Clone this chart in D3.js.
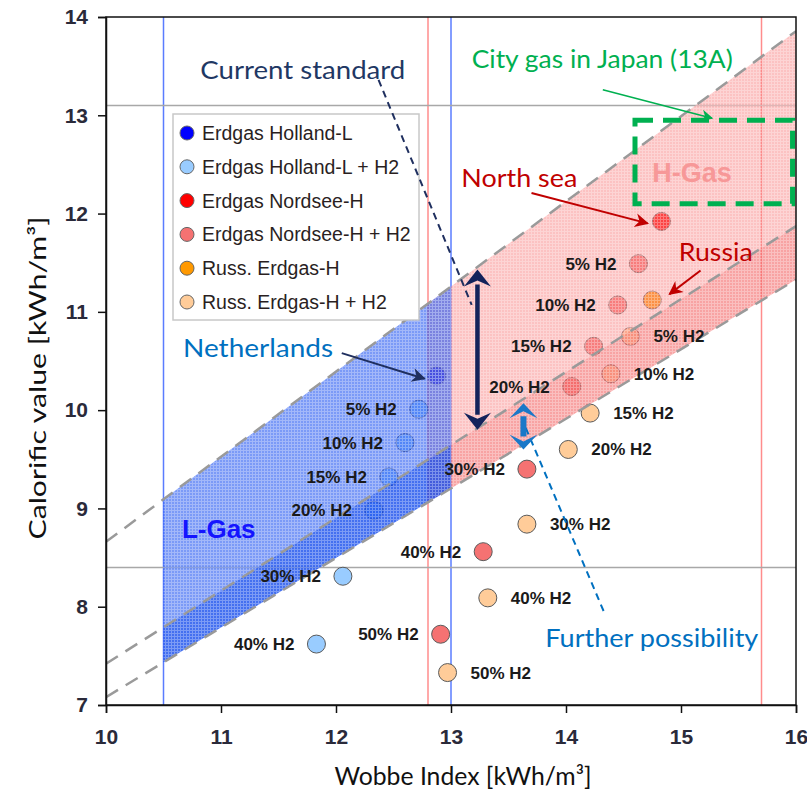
<!DOCTYPE html>
<html>
<head>
<meta charset="utf-8">
<script src="https://cdn.jsdelivr.net/npm/d3@7"></script>
<style>
    body { margin: 0; background: #fff; }
</style>
</head>
<body>
<div id="chart"></div>
<script>
// ---- data ----
const xTicks = [10, 11, 12, 13, 14, 15, 16];
const yTicks = [7, 8, 9, 10, 11, 12, 13, 14];
const seriesNames = ["Erdgas Holland-L", "Erdgas Holland-L + H2", "Erdgas Nordsee-H",
    "Erdgas Nordsee-H + H2", "Russ. Erdgas-H", "Russ. Erdgas-H + H2"];
const h2Labels = ["5% H2", "10% H2", "15% H2", "20% H2", "30% H2", "40% H2", "50% H2"];

const hollandWobbe = [12.875];
const hollandCal = [10.35];
const hollandH2Wobbe = [12.72, 12.60, 12.46, 12.33, 12.06, 11.83];
const hollandH2Cal = [10.01, 9.67, 9.32, 8.98, 8.31, 7.62];

const nordseeWobbe = [14.83];
const nordseeCal = [11.92];
const nordseeH2Wobbe = [14.63, 14.45, 14.24, 14.05, 13.66, 13.28, 12.91];
const nordseeH2Cal = [11.49, 11.07, 10.65, 10.24, 9.40, 8.56, 7.72];

const russWobbe = [14.75];
const russCal = [11.12];
const russH2Wobbe = [14.56, 14.39, 14.21, 14.02, 13.66, 13.32, 12.97];
const russH2Cal = [10.75, 10.37, 9.97, 9.60, 8.84, 8.09, 7.33];

// relative density lines: calorific = k * wobbe
const densitySlopes = [0.866, 0.742, 0.708];
const lGasWobbe = [10.5, 13.0];
const hGasWobbe = [12.8, 16.0];
const lGasLimits = [10.5, 13.0];
const hGasLimits = [12.8, 15.7];
const calLimits = [8.4, 13.1];

// ---- svg ----
const width = 807;
const height = 796;
const plot = {l: 106, r: 796, t: 17, b: 705};

const svg = d3.select("#chart")
    .append("svg")
    .attr("width", width)
    .attr("height", height)
    .attr("viewBox", [0, 0, width, height]);

const xScale = d3.scaleLinear().domain([10, 16]).range([plot.l, plot.r]);
const yScale = d3.scaleLinear().domain([7, 14]).range([plot.b, plot.t]);

const defs = svg.append("defs");
defs.append("clipPath").attr("id", "plotClip")
    .append("rect")
    .attr("x", plot.l).attr("y", plot.t)
    .attr("width", plot.r - plot.l).attr("height", plot.b - plot.t);

const grid = defs.append("pattern")
    .attr("id", "hatch")
    .attr("patternUnits", "userSpaceOnUse")
    .attr("width", 3).attr("height", 3);
grid.append("path")
    .attr("d", "M0 0.5H3M0.5 0V3")
    .attr("stroke", "white")
    .attr("stroke-width", 1)
    .attr("opacity", 0.3);

function addArrowMarker(id, color, w, h) {
    defs.append("marker")
        .attr("id", id)
        .attr("viewBox", "0 0 10 10")
        .attr("refX", 9).attr("refY", 5)
        .attr("markerUnits", "userSpaceOnUse")
        .attr("markerWidth", w).attr("markerHeight", h)
        .attr("orient", "auto")
        .append("path")
        .attr("d", "M0,0 L10,5 L0,10 L3,5 Z")
        .attr("fill", color);
}
addArrowMarker("arrRed", "#c00000", 16, 14);
addArrowMarker("arrNavy", "#1f2f5f", 16, 14);
addArrowMarker("arrGreen", "#00b050", 16, 12);

const g = svg.append("g").attr("clip-path", "url(#plotClip)");

// limit lines
lGasLimits.forEach(v => {
    g.append("line")
        .attr("x1", xScale(v)).attr("x2", xScale(v))
        .attr("y1", plot.t).attr("y2", plot.b)
        .attr("stroke", "#5a7cff").attr("stroke-width", 1.5);
});
hGasLimits.forEach(v => {
    g.append("line")
        .attr("x1", xScale(v)).attr("x2", xScale(v))
        .attr("y1", plot.t).attr("y2", plot.b)
        .attr("stroke", "#ff8c8c").attr("stroke-width", 1.5);
});
calLimits.forEach(v => {
    g.append("line")
        .attr("x1", plot.l).attr("x2", plot.r)
        .attr("y1", yScale(v)).attr("y2", yScale(v))
        .attr("stroke", "#a8a8a8").attr("stroke-width", 1.5);
});

// points (drawn under the translucent bands)
function drawPoints(ws, cs, color) {
    ws.forEach((w, i) => {
        g.append("circle")
            .attr("cx", xScale(w))
            .attr("cy", yScale(cs[i]))
            .attr("r", 9)
            .attr("fill", color)
            .attr("stroke", "#5a5a5a")
            .attr("stroke-width", 1);
    });
}
const colors = ["#0000ff", "#99ccff", "#ff0000", "#f57272", "#ff9900", "#ffcc99"];
drawPoints(hollandH2Wobbe, hollandH2Cal, colors[1]);
drawPoints(hollandWobbe, hollandCal, colors[0]);
drawPoints(nordseeH2Wobbe, nordseeH2Cal, colors[3]);
drawPoints(nordseeWobbe, nordseeCal, colors[2]);
drawPoints(russH2Wobbe, russH2Cal, colors[5]);
drawPoints(russWobbe, russCal, colors[4]);

// bands
function bandPts(range, kTop, kBot) {
    return [[range[0], kTop * range[0]], [range[1], kTop * range[1]],
        [range[1], kBot * range[1]], [range[0], kBot * range[0]]]
        .map(p => [xScale(p[0]), yScale(p[1])].join(",")).join(" ");
}
function band(range, kTop, kBot, color, op) {
    g.append("polygon")
        .attr("points", bandPts(range, kTop, kBot))
        .attr("fill", color)
        .attr("opacity", op);
    g.append("polygon")
        .attr("points", bandPts(range, kTop, kBot))
        .attr("fill", "url(#hatch)");
}
band(hGasWobbe, densitySlopes[0], densitySlopes[1], "#fa8686", 0.5);
band(hGasWobbe, densitySlopes[1], densitySlopes[2], "#f36a6a", 0.62);
band(lGasWobbe, densitySlopes[0], densitySlopes[1], "#2356f2", 0.6);
band(lGasWobbe, densitySlopes[1], densitySlopes[2], "#1048ec", 0.78);

// dashed density lines
densitySlopes.forEach(k => {
    g.append("line")
        .attr("x1", xScale(10)).attr("y1", yScale(10 * k))
        .attr("x2", xScale(16)).attr("y2", yScale(16 * k))
        .attr("stroke", "#9a9a9a")
        .attr("stroke-width", 2.5)
        .attr("stroke-dasharray", "14 9");
});

// point labels
function pointLabels(ws, cs, side) {
    ws.forEach((w, i) => {
        svg.append("text")
            .attr("x", xScale(w) + (side === "left" ? -22 : 23))
            .attr("y", yScale(cs[i]) + 6)
            .attr("text-anchor", side === "left" ? "end" : "start")
            .attr("font-family", "Liberation Sans, Arial, sans-serif")
            .attr("font-weight", "bold")
            .attr("font-size", "17px")
            .attr("fill", "#1a1a1a")
            .text(h2Labels[i]);
    });
}
pointLabels(hollandH2Wobbe, hollandH2Cal, "left");
pointLabels(nordseeH2Wobbe, nordseeH2Cal, "left");
pointLabels(russH2Wobbe, russH2Cal, "right");

// region names
svg.append("text")
    .attr("x", xScale(10.66)).attr("y", yScale(8.70))
    .attr("font-family", "Liberation Sans, Arial, sans-serif")
    .attr("font-weight", "bold").attr("font-size", "26px")
    .attr("fill", "#1414ff")
    .text("L-Gas");
svg.append("text")
    .attr("x", xScale(14.75)).attr("y", yScale(12.32))
    .attr("font-family", "Liberation Sans, Arial, sans-serif")
    .attr("font-weight", "bold").attr("font-size", "27px")
    .attr("fill", "#f79898")
    .text("H-Gas");

// city gas box
svg.append("rect")
    .attr("x", xScale(14.60)).attr("y", yScale(12.95))
    .attr("width", xScale(15.97) - xScale(14.60))
    .attr("height", yScale(12.10) - yScale(12.95))
    .attr("fill", "none")
    .attr("stroke", "#00b050")
    .attr("stroke-width", 5)
    .attr("stroke-dasharray", "18 10");

// frame + axes
svg.append("rect")
    .attr("x", plot.l).attr("y", plot.t)
    .attr("width", plot.r - plot.l).attr("height", plot.b - plot.t)
    .attr("fill", "none").attr("stroke", "#111").attr("stroke-width", 1.5);

const xAxis = d3.axisBottom(xScale).tickValues(xTicks).tickSize(8).tickPadding(16)
    .tickFormat(d3.format("d"));
const yAxis = d3.axisLeft(yScale).tickValues(yTicks).tickSize(8).tickPadding(10)
    .tickFormat(d3.format("d"));
[svg.append("g").attr("transform", `translate(0,${plot.b})`).call(xAxis),
 svg.append("g").attr("transform", `translate(${plot.l},0)`).call(yAxis)].forEach(ax => {
    ax.select(".domain").attr("stroke", "#111").attr("stroke-width", 1.5);
    ax.selectAll(".tick line").attr("stroke", "#111").attr("stroke-width", 1.5);
    ax.selectAll(".tick text")
        .attr("font-family", "Liberation Sans, Arial, sans-serif")
        .attr("font-size", "21px")
        .attr("font-weight", "bold")
        .attr("fill", "#2a2a3a");
});

svg.append("text")
    .attr("x", 463).attr("y", 785)
    .attr("text-anchor", "middle")
    .attr("font-family", "Lato, sans-serif").attr("font-size", "25px")
    .attr("textLength", 257).attr("lengthAdjust", "spacingAndGlyphs")
    .attr("fill", "#111")
    .text("Wobbe Index [kWh/m³]");
svg.append("text")
    .attr("transform", "translate(46,378) rotate(-90)")
    .attr("text-anchor", "middle")
    .attr("font-family", "Lato, sans-serif").attr("font-size", "24px")
    .attr("textLength", 323).attr("lengthAdjust", "spacingAndGlyphs")
    .attr("fill", "#111")
    .text("Calorific value [kWh/m³]");

// legend
const legend = {x: 173, y: 114, w: 246, h: 206, step: 33.8};
svg.append("rect")
    .attr("x", legend.x).attr("y", legend.y)
    .attr("width", legend.w).attr("height", legend.h)
    .attr("fill", "white").attr("stroke", "#c8c8c8").attr("stroke-width", 1.5);
seriesNames.forEach((name, i) => {
    const cy = legend.y + 19 + i * legend.step;
    svg.append("circle")
        .attr("cx", legend.x + 14).attr("cy", cy).attr("r", 7)
        .attr("fill", colors[i]).attr("stroke", "#666").attr("stroke-width", 1);
    svg.append("text")
        .attr("x", legend.x + 29).attr("y", cy + 7)
        .attr("font-family", "Liberation Sans, Arial, sans-serif")
        .attr("font-size", "19.5px")
        .attr("fill", "#2a1f1f")
        .text(name);
});

// annotations
function note(text, w, c, color, len) {
    svg.append("text")
        .attr("x", xScale(w)).attr("y", yScale(c))
        .attr("font-family", "Lato, sans-serif").attr("font-size", "25px")
        .attr("textLength", len).attr("lengthAdjust", "spacingAndGlyphs")
        .attr("fill", color)
        .text(text);
}
function pointer(w1, c1, w2, c2, color, marker, sw) {
    svg.append("line")
        .attr("x1", xScale(w1)).attr("y1", yScale(c1))
        .attr("x2", xScale(w2)).attr("y2", yScale(c2))
        .attr("stroke", color).attr("stroke-width", sw)
        .attr("marker-end", `url(#${marker})`);
}
note("Current standard", 10.82, 13.37, "#1f3864", 205);
note("City gas in Japan (13A)", 13.18, 13.48, "#00b050", 261);
note("North sea", 13.09, 12.27, "#c00000", 116);
note("Russia", 14.98, 11.52, "#c00000", 74);
note("Netherlands", 10.67, 10.54, "#0070c0", 150);
note("Further possibility", 13.82, 7.59, "#0070c0", 213);

pointer(13.70, 12.21, 14.71, 11.90, "#c00000", "arrRed", 2);
pointer(15.17, 11.42, 14.90, 11.18, "#c00000", "arrRed", 2);
pointer(12.05, 10.58, 12.77, 10.32, "#1f2f5f", "arrNavy", 2);
pointer(14.32, 13.26, 15.27, 12.97, "#00b050", "arrGreen", 1.6);

// dashed leaders
svg.append("line")
    .attr("x1", xScale(12.37)).attr("y1", yScale(13.36))
    .attr("x2", xScale(13.18)).attr("y2", yScale(11.07))
    .attr("stroke", "#1f2f5f").attr("stroke-width", 2)
    .attr("stroke-dasharray", "7 5");
svg.append("line")
    .attr("x1", xScale(13.65)).attr("y1", yScale(9.82))
    .attr("x2", xScale(14.34)).attr("y2", yScale(7.92))
    .attr("stroke", "#0070c0").attr("stroke-width", 2)
    .attr("stroke-dasharray", "7 5");

// double arrows
function doubleArrow(w, cTop, cBot, color, shaft, headW, headL, notch) {
    const x = xScale(w), yT = yScale(cTop), yB = yScale(cBot);
    svg.append("line")
        .attr("x1", x).attr("x2", x)
        .attr("y1", yT + headL - 2).attr("y2", yB - headL + 2)
        .attr("stroke", color).attr("stroke-width", shaft);
    svg.append("path")
        .attr("d", `M${x},${yT} L${x + headW / 2},${yT + headL} L${x},${yT + notch} L${x - headW / 2},${yT + headL} Z`)
        .attr("fill", color);
    svg.append("path")
        .attr("d", `M${x},${yB} L${x + headW / 2},${yB - headL} L${x},${yB - notch} L${x - headW / 2},${yB - headL} Z`)
        .attr("fill", color);
}
doubleArrow(13.23, 11.43, 9.80, "#13235b", 4.5, 27, 17, 11);
doubleArrow(13.63, 10.07, 9.60, "#1a78c8", 6, 28, 15, 8);
</script>
</body>
</html>
